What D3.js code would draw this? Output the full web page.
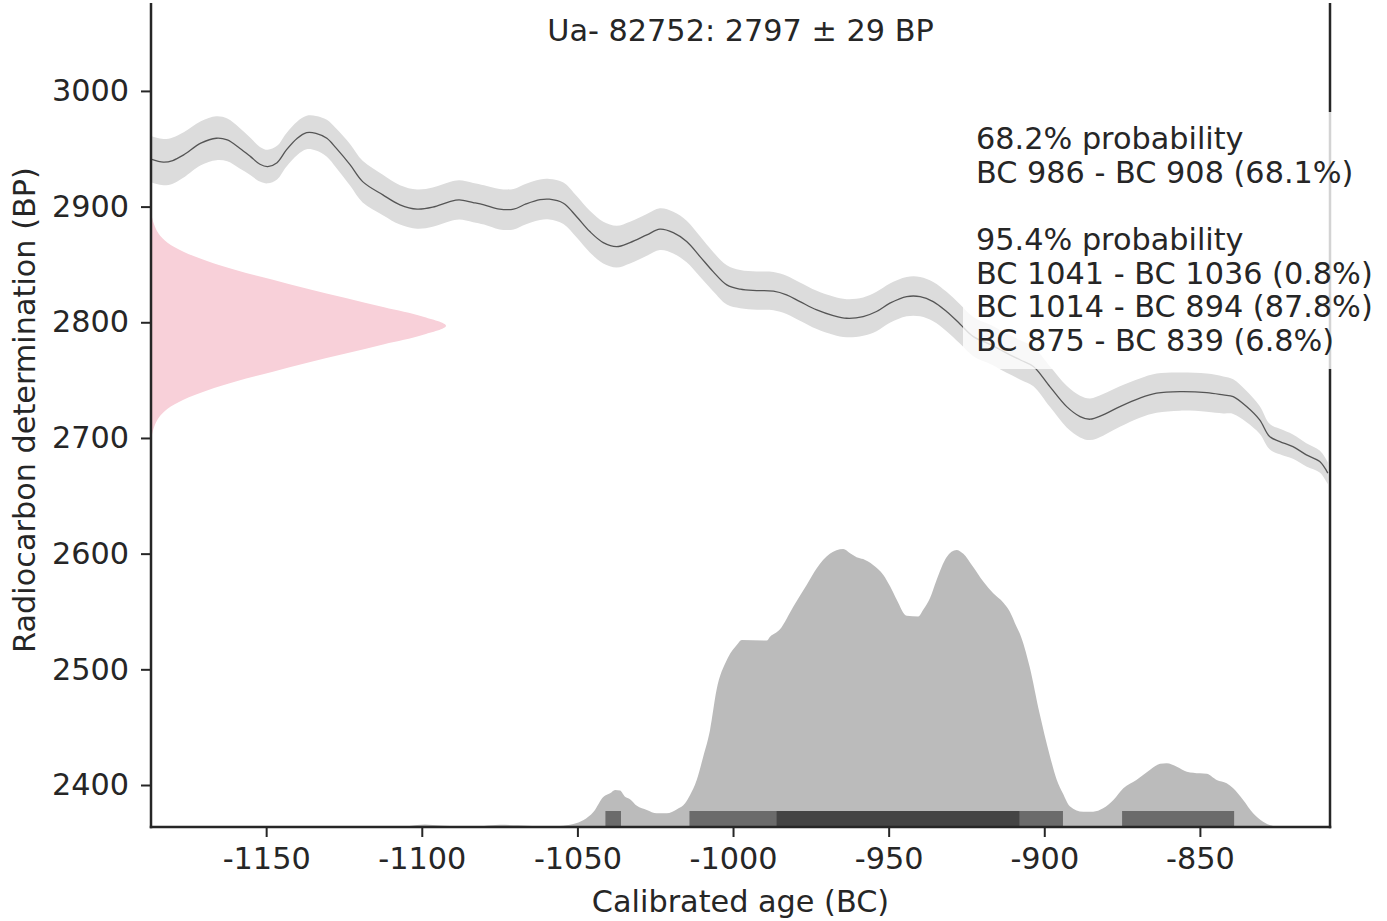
<!DOCTYPE html>
<html><head><meta charset="utf-8">
<script src="https://cdn.jsdelivr.net/npm/d3@7"></script>
<style>body{margin:0;background:#fff;} text{font-family:"DejaVu Sans",sans-serif;fill:#262626;}</style>
</head><body><svg id="chart" width="1387" height="921"></svg>
<script>
// ---- data ----
const calYear = [-1187,-1183,-1180,-1176.5,-1171,-1166,-1162.5,-1158.5,-1155,-1152,-1149.5,-1146.5,-1143.5,-1140,-1137,-1134,-1130.5,-1127.5,-1123,-1119,-1112.5,-1107,-1101.5,-1096.5,-1091,-1088,-1083.5,-1080,-1075,-1070.5,-1066.5,-1062,-1059,-1054.5,-1050.3,-1046,-1041.7,-1037.4,-1033.1,-1027.7,-1023.5,-1019.2,-1014.9,-1010.6,-1006.4,-1002,-997.7,-992.4,-987,-982.8,-978.5,-973.1,-967.8,-963.5,-958.2,-953.9,-949.6,-944.2,-939.9,-935.7,-931.4,-927.1,-922.8,-917,-912.1,-907.5,-903.5,-898.2,-892.8,-888.5,-885.3,-881.1,-875.7,-869.3,-863.9,-856.4,-847.8,-842.5,-839.3,-835,-830.8,-827.6,-824.3,-820.1,-815.8,-811.5,-808.9];
const calBP = [2941,2938.4,2939.8,2944.7,2954.8,2959.1,2957.6,2950.5,2943.2,2936.6,2934.6,2938.0,2949.0,2959.1,2964.0,2963.4,2959.1,2950.5,2936.0,2921.6,2910.1,2901.5,2897.8,2899.5,2904.3,2905.8,2903.5,2901.5,2897.8,2897.8,2902.3,2906,2906.4,2902.9,2891.4,2878.4,2868.9,2865.4,2868.9,2875.5,2880.5,2877.5,2869.8,2856.8,2843.8,2832.3,2828.6,2827.4,2826.9,2823.7,2817.9,2810.7,2805.8,2803.5,2804.9,2809.3,2816.5,2822.2,2822.2,2817.9,2809.3,2798.6,2787.6,2780.5,2773.3,2767.2,2761.8,2744.4,2727.1,2718.5,2716.2,2720.0,2727.1,2734.4,2738.7,2740.1,2739.2,2737.2,2735.8,2727.1,2715.6,2701.2,2696.9,2692.5,2685.4,2679.6,2669.6];
const calSigma = [20,20,20,19.5,19,19,18.5,17.5,16,15,14.5,14.5,14.5,14.5,14.5,15,16,17,18,18,17.5,17,17,17,17,17,17,17,17.5,17.5,17.5,17.5,17.5,18,18,18,18,18,18,18,18,18,18,17.5,17,17,16.5,16.5,16.5,16.5,16.5,16.5,16.5,16.5,16.5,17,17,17,17,17,17,17,17,17,17,17,17,17.5,18,18,18,18,17.5,17,17,16.5,16.5,16,15,13.5,12,11,11,10.5,10,9.5,9.5];

const pinkBP = [2895,2885,2877,2869,2861,2853,2845,2837,2829,2821,2813,2805,2797,2789,2781,2773,2765,2757,2749,2741,2733,2725,2717,2709,2699];
const pinkDensity = [0,0.01,0.025,0.055,0.11,0.19,0.29,0.41,0.53,0.66,0.79,0.92,1,0.92,0.79,0.66,0.53,0.41,0.29,0.19,0.11,0.055,0.025,0.01,0];

const distYear = [-1187,-1110,-1104,-1099,-1094,-1088,-1080,-1075,-1069,-1063,-1058,-1055.6,-1051.3,-1048,-1044.8,-1041.6,-1039.5,-1037.9,-1036.3,-1034.7,-1033.1,-1030.9,-1027.7,-1024.5,-1021.3,-1018,-1015.4,-1013.8,-1011.7,-1009.6,-1007.4,-1005.3,-1002,-998.8,-997.2,-989.2,-988.1,-984.9,-980.6,-976.3,-973.1,-968.9,-964.6,-962.4,-960.3,-958.2,-955,-951.7,-949.5,-947.4,-944.2,-940.5,-938.9,-936.7,-934.6,-931.4,-928.2,-926,-923,-919.6,-916.4,-913.2,-911.1,-908.9,-907.9,-904.7,-901.5,-898.3,-896,-894,-891.8,-887.5,-884.3,-881.1,-877.8,-874.6,-870.4,-866.1,-862.8,-860.7,-857.4,-854.2,-850,-847.8,-844.6,-841.4,-839.3,-836.1,-832.9,-829.7,-826.5,-823.2,-808];
const distProb = [0,0,0.004,0.009,0.005,0.002,0.004,0.008,0.006,0.003,0.003,0.004,0.011,0.025,0.055,0.109,0.121,0.133,0.131,0.109,0.100,0.076,0.061,0.049,0.049,0.064,0.085,0.115,0.168,0.252,0.348,0.492,0.600,0.654,0.672,0.670,0.684,0.711,0.793,0.871,0.930,0.982,0.999,0.984,0.970,0.963,0.942,0.906,0.864,0.817,0.759,0.757,0.781,0.823,0.888,0.970,0.996,0.982,0.937,0.882,0.840,0.807,0.775,0.720,0.696,0.576,0.408,0.26,0.17,0.12,0.075,0.055,0.055,0.067,0.097,0.139,0.169,0.205,0.227,0.229,0.217,0.199,0.193,0.191,0.169,0.157,0.139,0.097,0.049,0.019,0.004,0,0];

const hpd68 = [[-986,-908]];
const hpd95 = [[-1041,-1036],[-1014,-894],[-875,-839]];
const xTicks = [-1150,-1100,-1050,-1000,-950,-900,-850];
const yTicks = [2400,2500,2600,2700,2800,2900,3000];
const titleText = "Ua- 82752: 2797 \u00b1 29 BP";
const xLabel = "Calibrated age (BC)";
const yLabel = "Radiocarbon determination (BP)";
const legendLines = ["68.2% probability","BC 986 - BC 908 (68.1%)","","95.4% probability","BC 1041 - BC 1036 (0.8%)","BC 1014 - BC 894 (87.8%)","BC 875 - BC 839 (6.8%)"];

// ---- layout ----
const L = 151, R = 1330, T = 3, B = 827;
const xDomain = [-1187, -808.2], yDomain = [2363.7, 3076];
const x = d3.scaleLinear().domain(xDomain).range([L, R]);
const y = d3.scaleLinear().domain(yDomain).range([B, T]);
const pinkScale = d3.scaleLinear().domain([0,1]).range([xDomain[0], -1092.2]);
const distScale = d3.scaleLinear().domain([0,1]).range([yDomain[0], 2604.2]);

const svg = d3.select("#chart");
const ink = "#262626";
const font = 30.3;

// calibration band + mean line
const cal = calYear.map((d,i)=>({yr:d, bp:calBP[i], s:calSigma[i]}));
svg.append("path").datum(cal)
  .attr("d", d3.area().curve(d3.curveCatmullRom).x(d=>x(d.yr)).y0(d=>y(d.bp-d.s)).y1(d=>y(d.bp+d.s)))
  .attr("fill","#dcdcdc");
svg.append("path").datum(cal)
  .attr("d", d3.line().curve(d3.curveCatmullRom).x(d=>x(d.yr)).y(d=>y(d.bp)))
  .attr("fill","none").attr("stroke","#555").attr("stroke-width",1.3);

// measurement distribution (pink)
const pink = pinkBP.map((d,i)=>({bp:d, p:pinkDensity[i]}));
svg.append("path").datum(pink)
  .attr("d", d3.area().curve(d3.curveCatmullRom).y(d=>y(d.bp)).x0(x(xDomain[0])).x1(d=>x(pinkScale(d.p))))
  .attr("fill","#f8d0d9");

// calibrated distribution
const dist = distYear.map((d,i)=>({yr:d, p:distProb[i]}));
svg.append("path").datum(dist)
  .attr("d", d3.area().curve(d3.curveMonotoneX).x(d=>x(d.yr)).y0(y(yDomain[0])).y1(d=>y(distScale(d.p))))
  .attr("fill","#bbbbbb");

// HPD bars
const barH = 16;
svg.selectAll("rect.h95").data(hpd95).enter().append("rect")
  .attr("x", d=>x(d[0])).attr("width", d=>x(d[1])-x(d[0]))
  .attr("y", B-barH).attr("height", barH).attr("fill","#6b6b6b");
svg.selectAll("rect.h68").data(hpd68).enter().append("rect")
  .attr("x", d=>x(d[0])).attr("width", d=>x(d[1])-x(d[0]))
  .attr("y", B-barH).attr("height", barH).attr("fill","#444444");

// axes
const xAxis = d3.axisBottom(x).tickValues(xTicks).tickFormat(d=>String(d)).tickSizeOuter(0).tickSize(10).tickPadding(10);
const yAxis = d3.axisLeft(y).tickValues(yTicks).tickFormat(d=>String(d)).tickSizeOuter(0).tickSize(10).tickPadding(12);
const gx = svg.append("g").attr("transform",`translate(0,${B})`).call(xAxis);
const gy = svg.append("g").attr("transform",`translate(${L},0)`).call(yAxis);
[gx,gy].forEach(g=>{
  g.select(".domain").remove();
  g.selectAll(".tick line").attr("stroke",ink).attr("stroke-width",2);
  g.selectAll(".tick text").attr("font-size",font).attr("fill",ink).attr("font-family","DejaVu Sans");
});

// spines
svg.append("line").attr("x1",L).attr("x2",L).attr("y1",T).attr("y2",B+1.25).attr("stroke",ink).attr("stroke-width",2.5);
svg.append("line").attr("x1",R).attr("x2",R).attr("y1",T).attr("y2",B+1.25).attr("stroke",ink).attr("stroke-width",2.5);
svg.append("line").attr("x1",L-1.25).attr("x2",R+1.25).attr("y1",B).attr("y2",B).attr("stroke",ink).attr("stroke-width",2.5);

// labels
svg.append("text").attr("x",(L+R)/2).attr("y",41).attr("text-anchor","middle").attr("font-size",font).text(titleText);
svg.append("text").attr("x",(L+R)/2).attr("y",912).attr("text-anchor","middle").attr("font-size",font).text(xLabel);
svg.append("text").attr("transform","translate(35,410) rotate(-90)").attr("text-anchor","middle").attr("font-size",font).text(yLabel);

// legend box
svg.append("rect").attr("x",963).attr("y",112).attr("width",424).attr("height",257)
  .attr("fill","#fff").attr("fill-opacity",0.8);
const lg = svg.append("g");
legendLines.forEach((t,i)=>{
  if (!t) return;
  lg.append("text").attr("x",976).attr("y",149.3 + i*33.6).attr("font-size",font).text(t);
});
</script></body></html>
